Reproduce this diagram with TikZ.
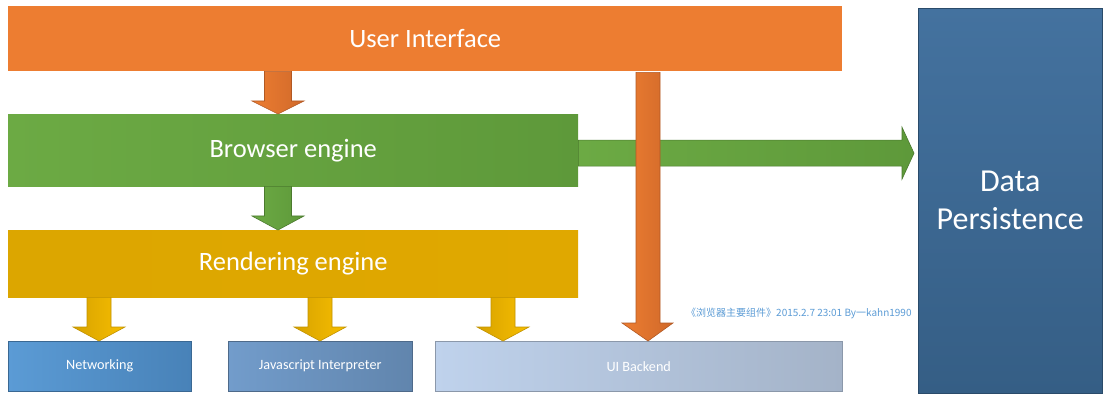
\documentclass[tikz,border=0pt]{standalone}
\usepackage{fontspec}
\setmainfont{Carlito}
\newfontfamily\cjk{Noto Sans CJK SC}
\usetikzlibrary{calc}

\definecolor{uiorange}{HTML}{ED7D31}
\definecolor{uiorangedk}{HTML}{D0692A}
\definecolor{begreen}{HTML}{6CAA44}
\definecolor{begreendk}{HTML}{5E993A}
\definecolor{regold}{HTML}{DCA600}
\definecolor{regolddk}{HTML}{E0A800}
\definecolor{arrgold}{HTML}{F7BE00}
\definecolor{arrgolddk}{HTML}{D7A200}
\definecolor{netblue}{HTML}{5B9BD5}
\definecolor{netbluedk}{HTML}{4882B8}
\definecolor{jsblue}{HTML}{729CCB}
\definecolor{jsbluedk}{HTML}{6185AD}
\definecolor{uibblue}{HTML}{BFD2EC}
\definecolor{uibbluedk}{HTML}{A4B3C8}
\definecolor{dpblue}{HTML}{44729F}
\definecolor{dpbluedk}{HTML}{355E85}
\definecolor{notecol}{HTML}{5B9BD5}

% block arrow pointing down: style, from, to, x, shaft half, head half, head length
\newcommand\downblk[7]{%
  \path[#1] let \p1=(#2.south), \p2=(#3.north) in
    (#4pt-#5pt,\y1) -- (#4pt+#5pt,\y1) -- (#4pt+#5pt,\y2+#7pt) --
    (#4pt+#6pt,\y2+#7pt) -- (#4pt,\y2) -- (#4pt-#6pt,\y2+#7pt) --
    (#4pt-#5pt,\y2+#7pt) -- cycle;}

\begin{document}
\begin{tikzpicture}[x=1pt,y=1pt,
  main box/.style={rectangle,anchor=north west,inner sep=0pt,text=white,font=\fontsize{26.5}{30}\selectfont},
  small box/.style={rectangle,anchor=north west,inner sep=0pt,text=white,font=\fontsize{14.2}{16}\selectfont,minimum height=50pt},
  orange arrow/.style={left color=uiorange,right color=uiorangedk,draw=uiorangedk!85!black,line width=0.6pt},
  gold arrow/.style={left color=arrgolddk,right color=arrgold,draw=arrgolddk!90!black,line width=0.6pt},
  green arrow/.style={left color=begreen,right color=begreendk,draw=begreendk!80!black,line width=0.6pt}]

  \useasboundingbox (0,0) rectangle (1113,402);

  \node[main box,fill=uiorange,minimum width=834pt,minimum height=65pt] (ui) at (8,396) {User Interface};
  \node[main box,left color=begreen,right color=begreendk,minimum width=570pt,minimum height=72pt] (be) at (8,288) {Browser engine};
  \node[main box,left color=regold,right color=regolddk,minimum width=570pt,minimum height=67pt] (re) at (8,172) {Rendering engine};

  \node[small box,left color=netblue,right color=netbluedk,draw=netbluedk!80!black,minimum width=183pt] (net) at (8,61) {Networking};
  \node[small box,left color=jsblue,right color=jsbluedk,draw=jsbluedk!80!black,minimum width=184pt] (js) at (228,61) {Javascript Interpreter};
  \node[small box,left color=uibblue,right color=uibbluedk,draw=uibbluedk!85!black,minimum width=407pt] (uib) at (435,61) {UI Backend};

  \node[rectangle,anchor=north west,inner sep=0pt,top color=dpblue,bottom color=dpbluedk,draw=dpbluedk!80!black,
    minimum width=184pt,minimum height=385pt,text=white,align=center,
    font=\fontsize{32}{38}\selectfont] (dp) at (918,394) {Data\\Persistence};

  \node[anchor=west,inner sep=0pt,text=notecol,font=\cjk\fontsize{10}{12}\selectfont] (note) at (686,89)
    {《浏览器主要组件》2015.2.7 23:01 By一kahn1990};

  % arrows
  \downblk{orange arrow}{ui}{be}{278}{13.5}{26}{13}
  \downblk{green arrow}{be}{re}{278}{13.5}{26}{14}
  \downblk{gold arrow}{re}{net}{99}{12}{26}{14}
  \downblk{gold arrow}{re}{js}{320}{12}{26}{14}
  \downblk{gold arrow}{re}{uib}{503}{12}{26}{14}

  \path[green arrow] let \p1=(be.east), \p2=(dp.west) in
    (\x1,\y1-16pt) -- (\x2-16pt,\y1-16pt) -- (\x2-16pt,\y1-29pt) -- (\x2-4pt,\y1-3pt) --
    (\x2-16pt,\y1+23pt) -- (\x2-16pt,\y1+10pt) -- (\x1,\y1+10pt) -- cycle;

  \path[orange arrow] let \p1=(ui.south), \p2=(uib.north) in
    (636,\y1-1pt) -- (660,\y1-1pt) -- (660,\y2+18pt) -- (673,\y2+18pt) -- (648,\y2) --
    (622,\y2+18pt) -- (636,\y2+18pt) -- cycle;

\end{tikzpicture}
\end{document}
